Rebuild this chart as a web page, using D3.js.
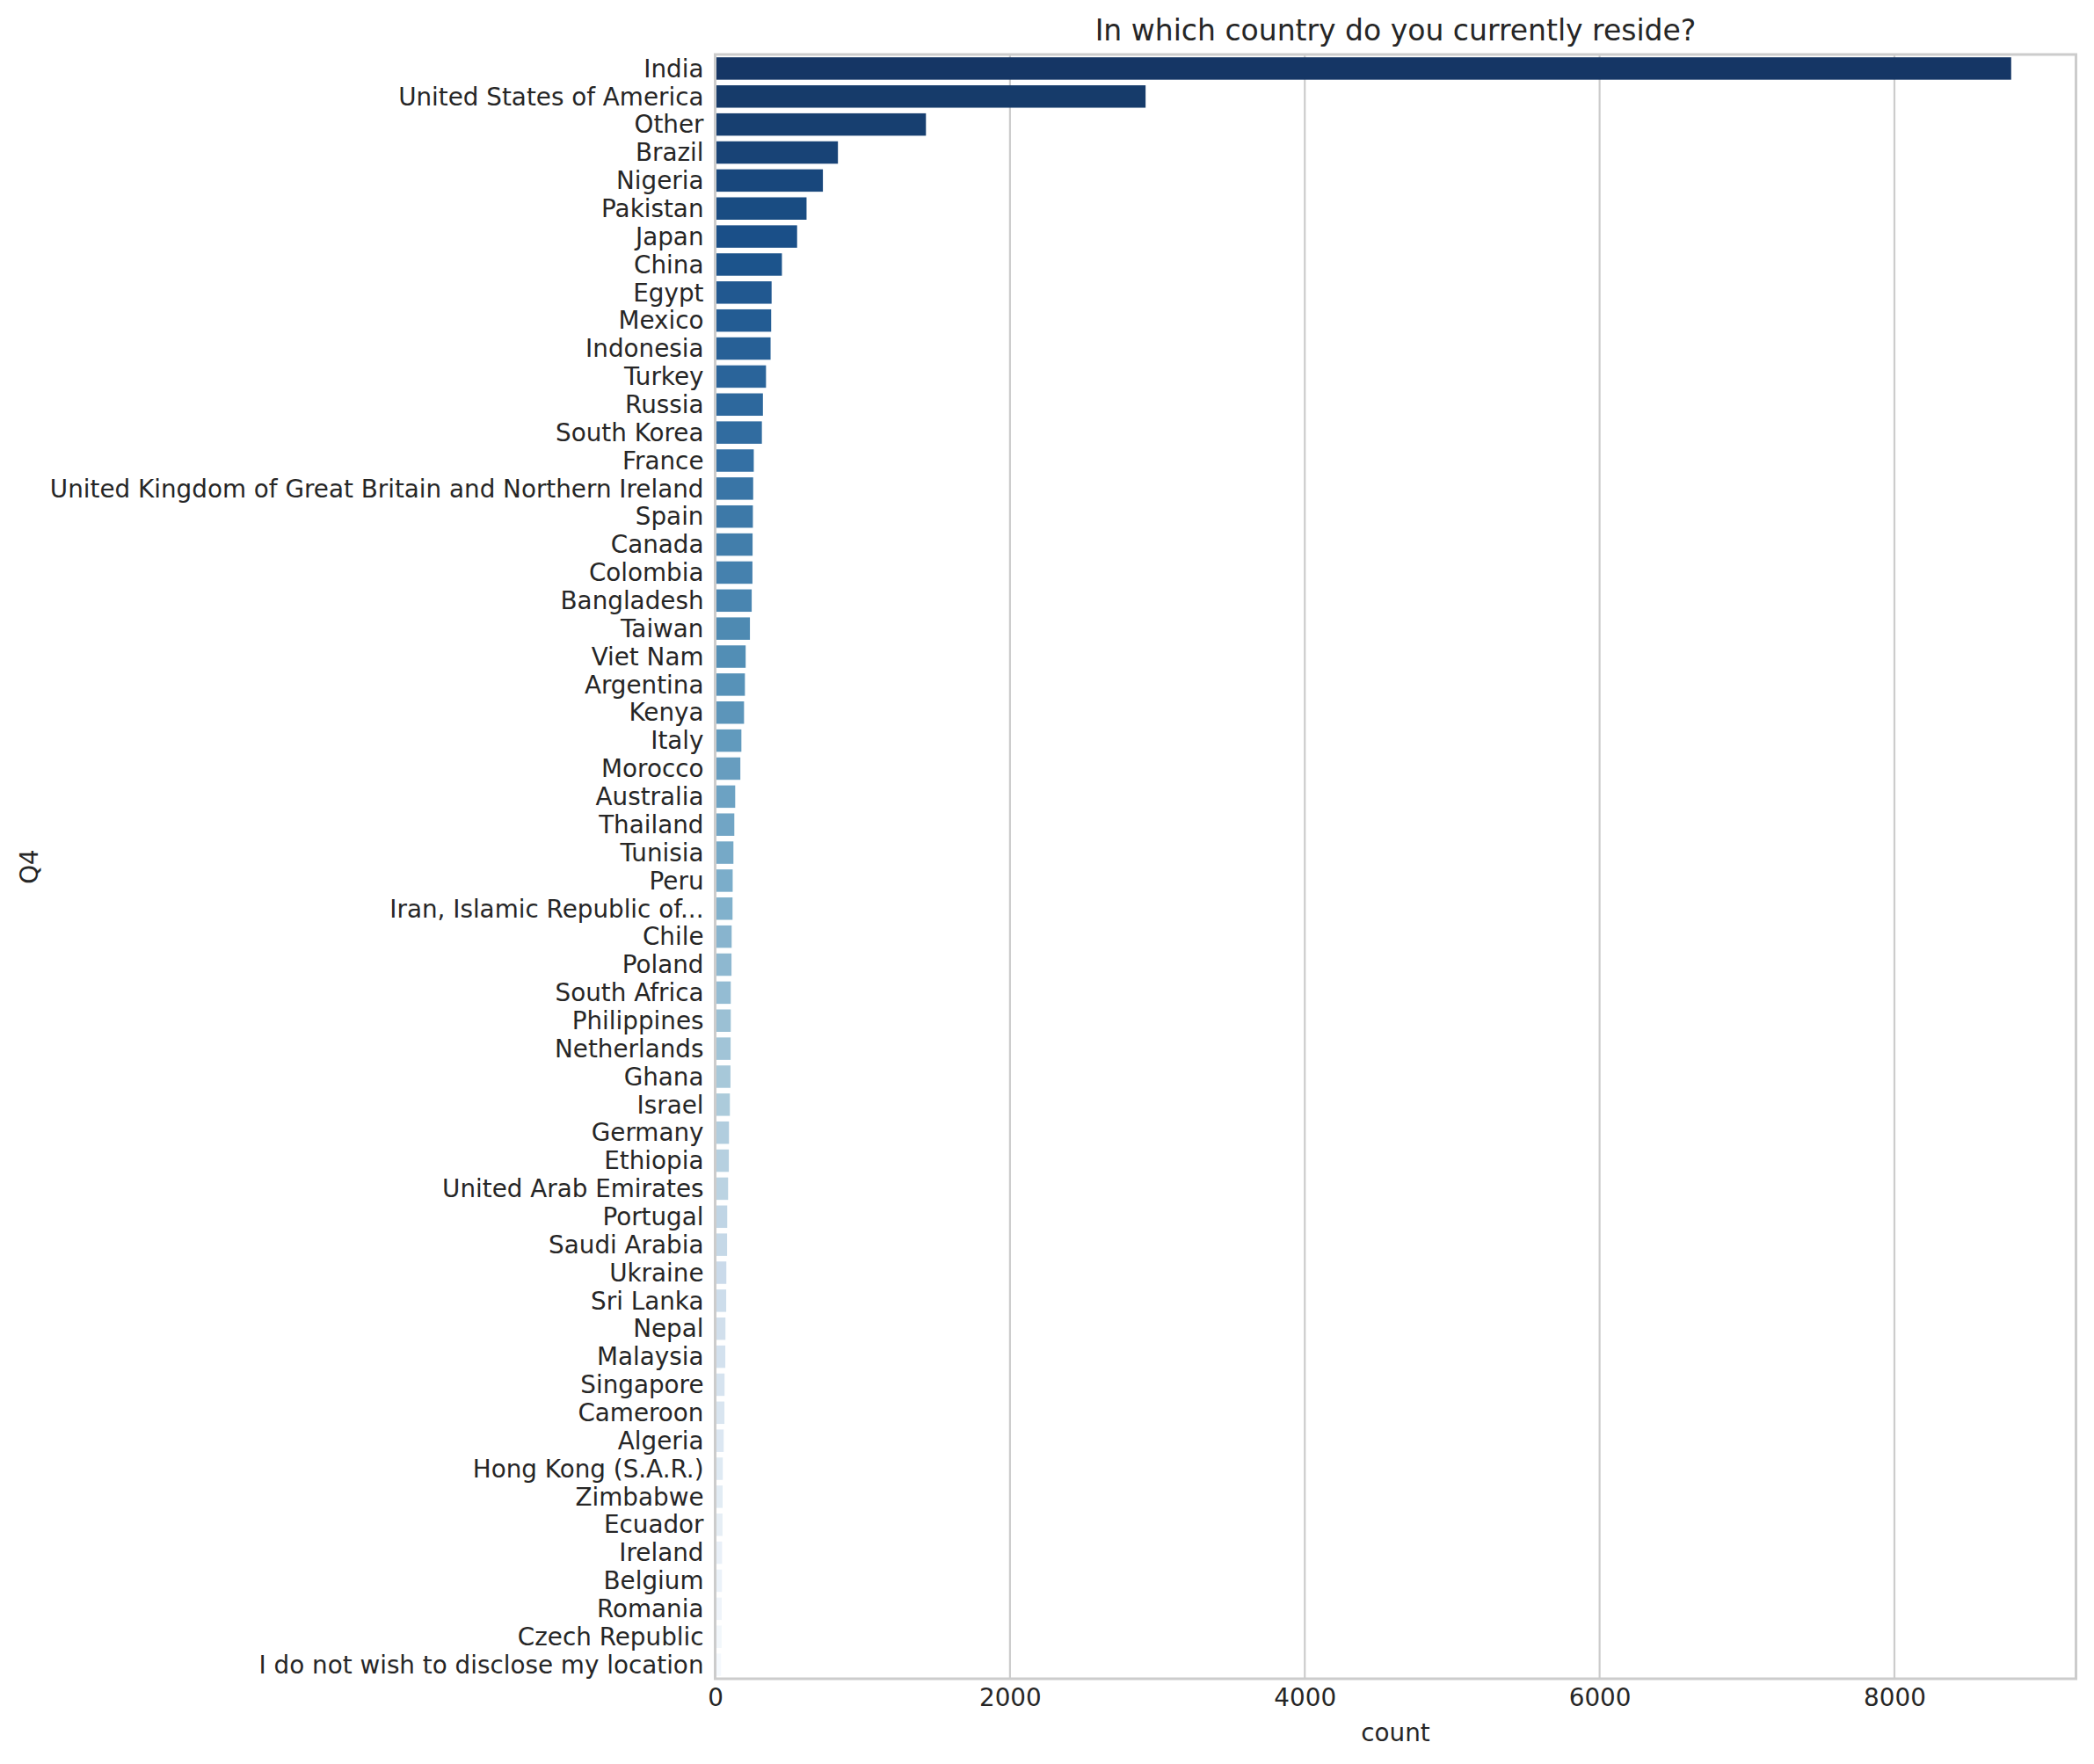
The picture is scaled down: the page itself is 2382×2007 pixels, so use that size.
<!DOCTYPE html>
<html>
<head>
<meta charset="utf-8">
<script src="https://cdnjs.cloudflare.com/ajax/libs/d3/7.8.5/d3.min.js"></script>
<style>
  body { margin: 0; background: #fff; }
  svg { display: block; font-family: "DejaVu Sans", sans-serif; }
</style>
</head>
<body>
<svg id="chart" width="2382" height="2007"></svg>
<script>
// Countries, in the order they are drawn (top to bottom)
var countries = ['India', 'United States of America', 'Other', 'Brazil', 'Nigeria', 'Pakistan',
  'Japan', 'China', 'Egypt', 'Mexico', 'Indonesia', 'Turkey', 'Russia', 'South Korea', 'France',
  'United Kingdom of Great Britain and Northern Ireland', 'Spain', 'Canada', 'Colombia',
  'Bangladesh', 'Taiwan', 'Viet Nam', 'Argentina', 'Kenya', 'Italy', 'Morocco', 'Australia',
  'Thailand', 'Tunisia', 'Peru', 'Iran, Islamic Republic of...', 'Chile', 'Poland',
  'South Africa', 'Philippines', 'Netherlands', 'Ghana', 'Israel', 'Germany', 'Ethiopia',
  'United Arab Emirates', 'Portugal', 'Saudi Arabia', 'Ukraine', 'Sri Lanka', 'Nepal',
  'Malaysia', 'Singapore', 'Cameroon', 'Algeria', 'Hong Kong (S.A.R.)', 'Zimbabwe', 'Ecuador',
  'Ireland', 'Belgium', 'Romania', 'Czech Republic', 'I do not wish to disclose my location'];

// Respondent counts
var counts = [8792, 2920, 1430, 833, 731, 620, 556, 453, 383, 380, 376, 345, 324, 317, 262,
  258, 256, 254, 253, 248, 236, 207, 202, 196, 178, 171, 136,
  130, 124, 119, 118, 112, 111, 106, 106, 105, 104, 100, 94, 93,
  88, 82, 81, 76, 75, 70, 69, 64, 63, 58, 52, 51, 50,
  47, 46, 45, 44, 40];

var xTicks = [0, 2000, 4000, 6000, 8000];

var titleText = 'In which country do you currently reside?';
var xLabel = 'count';
var yLabel = 'Q4';

// Plot box (window.top is reserved, so these get their own names)
var plotLeft = 813.5, plotRight = 2361.5, plotTop = 62, plotBottom = 1910;
var ink = '#262626', light = '#cccccc';
var font = '"DejaVu Sans", sans-serif';
var labelSize = 27.8;

var svg = d3.select('#chart');

var x = d3.scaleLinear()
  .domain([0, d3.max(counts) * 1.05])
  .range([plotLeft, plotRight]);

var y = d3.scaleBand()
  .domain(countries)
  .range([plotTop, plotBottom])
  .paddingInner(0.2)
  .paddingOuter(0.1);

// matplotlib "Blues", reversed and sampled like seaborn, then desaturated to 0.75
var bluesStops = ['#f7fbff', '#deebf7', '#c6dbef', '#9ecae1', '#6baed6', '#4292c6', '#2171b5', '#08519c', '#08306b'];
var blues = d3.scaleLinear()
  .domain(d3.range(bluesStops.length).map(function(i) { return i / (bluesStops.length - 1); }))
  .range(bluesStops)
  .interpolate(d3.interpolateRgb);

function barColor(i) {
  var t = (i + 1) / (countries.length + 1);
  var c = d3.hsl(blues(1 - t));
  c.s = c.s * 0.75;
  return c.formatHex();
}

// Vertical grid
svg.append('g')
  .selectAll('line')
  .data(xTicks)
  .join('line')
  .attr('x1', function(d) { return x(d); })
  .attr('x2', function(d) { return x(d); })
  .attr('y1', plotTop)
  .attr('y2', plotBottom)
  .attr('stroke', light)
  .attr('stroke-width', 2.2);

// Bars
svg.append('g')
  .selectAll('rect')
  .data(counts)
  .join('rect')
  .attr('x', x(0))
  .attr('y', function(d, i) { return y(countries[i]); })
  .attr('width', function(d) { return x(d) - x(0); })
  .attr('height', y.bandwidth())
  .attr('fill', function(d, i) { return barColor(i); });

// Frame
svg.append('rect')
  .attr('x', plotLeft)
  .attr('y', plotTop)
  .attr('width', plotRight - plotLeft)
  .attr('height', plotBottom - plotTop)
  .attr('fill', 'none')
  .attr('stroke', light)
  .attr('stroke-width', 3);

// Y tick labels
var yAxis = svg.append('g')
  .attr('transform', 'translate(' + plotLeft + ',0)')
  .call(d3.axisLeft(y).tickSize(0).tickPadding(13))
  .attr('font-family', font)
  .attr('font-size', labelSize);
yAxis.select('.domain').remove();
yAxis.selectAll('text')
  .attr('fill', ink)
  .attr('dy', '0.35em');

// X tick labels
var xAxis = svg.append('g')
  .attr('transform', 'translate(0,' + plotBottom + ')')
  .call(d3.axisBottom(x).tickValues(xTicks).tickFormat(d3.format('d')).tickSize(0).tickPadding(11))
  .attr('font-family', font)
  .attr('font-size', labelSize);
xAxis.select('.domain').remove();
xAxis.selectAll('text')
  .attr('fill', ink);

// Title and axis labels
svg.append('text')
  .attr('x', (plotLeft + plotRight) / 2)
  .attr('y', 46)
  .attr('text-anchor', 'middle')
  .attr('fill', ink)
  .style('font-size', '33px')
  .text(titleText);

svg.append('text')
  .attr('x', (plotLeft + plotRight) / 2)
  .attr('y', 1981)
  .attr('text-anchor', 'middle')
  .attr('fill', ink)
  .style('font-size', labelSize + 'px')
  .text(xLabel);

svg.append('text')
  .attr('transform', 'translate(43,' + (plotTop + plotBottom) / 2 + ') rotate(-90)')
  .attr('text-anchor', 'middle')
  .attr('fill', ink)
  .style('font-size', labelSize + 'px')
  .text(yLabel);
</script>
</body>
</html>
